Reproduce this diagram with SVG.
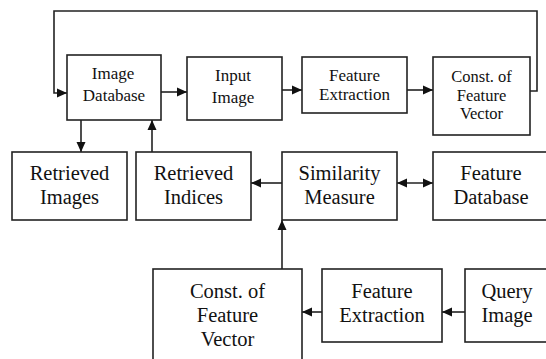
<svg xmlns="http://www.w3.org/2000/svg" width="546" height="359" viewBox="0 0 546 359">
<style>
rect{fill:#fff;stroke:#222;stroke-width:1.6}
text{font-family:"Liberation Serif",serif;fill:#111;text-anchor:middle}
.s{font-size:17px}
.t{font-size:16.5px}
.b{font-size:20.5px}
.c{fill:none;stroke:#222;stroke-width:1.6}
</style>
<defs>
<marker id="ah" markerUnits="userSpaceOnUse" markerWidth="10" markerHeight="10" refX="10" refY="5" orient="auto">
<path d="M0,0.5 L10,5 L0,9.5 Z" fill="#111"/>
</marker>
<marker id="as" markerUnits="userSpaceOnUse" markerWidth="10" markerHeight="10" refX="10" refY="5" orient="auto-start-reverse">
<path d="M0,0.5 L10,5 L0,9.5 Z" fill="#111"/>
</marker>
</defs>
<g id="connectors">
<path class="c" d="M530,91 H537 V11 H54 V93 H67" marker-end="url(#ah)"/>
<path class="c" d="M161,92 H187" marker-end="url(#ah)"/>
<path class="c" d="M282,90 H302" marker-end="url(#ah)"/>
<path class="c" d="M407,90 H433" marker-end="url(#ah)"/>
<path class="c" d="M81,120 V152" marker-end="url(#ah)"/>
<path class="c" d="M152,152 V120" marker-end="url(#ah)"/>
<path class="c" d="M282,183 H251" marker-end="url(#ah)"/>
<path class="c" d="M397,183 H433" marker-start="url(#as)" marker-end="url(#as)"/>
<path class="c" d="M282,269 V220" marker-end="url(#ah)"/>
<path class="c" d="M322,312 H302" marker-end="url(#ah)"/>
<path class="c" d="M465,312 H442" marker-end="url(#ah)"/>
</g>
<g id="image-database">
<rect x="67" y="55" width="94" height="65"/>
<text class="s" x="113" y="79">Image</text>
<text class="s" x="114" y="101">Database</text>
</g>
<g id="input-image">
<rect x="187" y="57" width="95" height="63"/>
<text class="s" x="233" y="81">Input</text>
<text class="s" x="233" y="103">Image</text>
</g>
<g id="feature-extraction-top">
<rect x="302" y="57" width="105" height="56"/>
<text class="s" x="354.5" y="81">Feature</text>
<text class="s" x="354.5" y="100">Extraction</text>
</g>
<g id="const-feature-vector-top">
<rect x="433" y="57" width="97" height="78"/>
<text class="t" x="481.5" y="82">Const. of</text>
<text class="t" x="481.5" y="101">Feature</text>
<text class="t" x="481.5" y="119">Vector</text>
</g>
<g id="retrieved-images">
<rect x="12" y="152" width="115" height="68"/>
<text class="b" x="69.5" y="180">Retrieved</text>
<text class="b" x="69.5" y="204">Images</text>
</g>
<g id="retrieved-indices">
<rect x="136" y="152" width="115" height="68"/>
<text class="b" x="193.5" y="180">Retrieved</text>
<text class="b" x="193.5" y="204">Indices</text>
</g>
<g id="similarity-measure">
<rect x="282" y="152" width="115" height="68"/>
<text class="b" x="339.5" y="180">Similarity</text>
<text class="b" x="339.5" y="204">Measure</text>
</g>
<g id="feature-database">
<rect x="433" y="152" width="116" height="68"/>
<text class="b" x="491" y="180">Feature</text>
<text class="b" x="491" y="204">Database</text>
</g>
<g id="const-feature-vector-bottom">
<rect x="153" y="269" width="149" height="100"/>
<text class="b" x="227.5" y="298">Const. of</text>
<text class="b" x="227.5" y="322">Feature</text>
<text class="b" x="227.5" y="346">Vector</text>
</g>
<g id="feature-extraction-bottom">
<rect x="322" y="269" width="120" height="73"/>
<text class="b" x="382" y="298">Feature</text>
<text class="b" x="382" y="322">Extraction</text>
</g>
<g id="query-image">
<rect x="465" y="269" width="90" height="73"/>
<text class="b" x="507" y="298">Query</text>
<text class="b" x="507" y="322">Image</text>
</g>
</svg>
